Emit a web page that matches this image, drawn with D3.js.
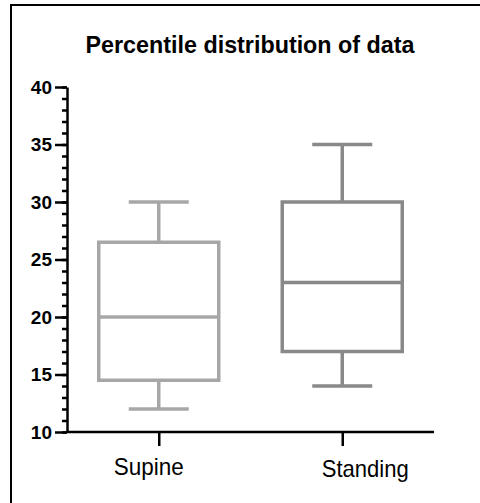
<!DOCTYPE html>
<html lang="en">
<head>
<meta charset="UTF-8">
<title>Percentile distribution of data</title>
<script src="https://d3js.org/d3.v7.min.js"></script>
<style>
  body { margin: 0; background: #fff; }
  text { font-family: "Liberation Sans", Arial, sans-serif; }
</style>
</head>
<body>
<script>
  // data
  const groups = ['Supine', 'Standing'];
  const mins = [12, 14];
  const q1s = [14.5, 17];
  const medians = [20, 23];
  const q3s = [26.5, 30];
  const maxs = [30, 35];
  const colours = ['#a7a7a9', '#898989'];
  const yTicks = [10, 15, 20, 25, 30, 35, 40];

  const width = 480, height = 503;
  const margin = { left: 67, right: 46, top: 87, bottom: 71 };

  const svg = d3.select('body').append('svg')
    .attr('width', width).attr('height', height);

  // frame (only left and top visible in the crop)
  svg.append('rect')
    .attr('x', 11).attr('y', 5)
    .attr('width', width + 10).attr('height', height + 10)
    .attr('fill', 'none').attr('stroke', '#000').attr('stroke-width', 2);

  const x = d3.scalePoint().domain(groups)
    .range([margin.left, width - margin.right]).padding(0.5);
  const y = d3.scaleLinear().domain([10, 40])
    .range([height - margin.bottom, margin.top]);

  svg.append('text')
    .attr('x', 250).attr('y', 53)
    .attr('text-anchor', 'middle')
    .attr('font-size', 24).attr('font-weight', 'bold')
    .attr('textLength', 329).attr('lengthAdjust', 'spacingAndGlyphs')
    .text('Percentile distribution of data');

  // minor ticks every 1
  svg.append('g')
    .attr('transform', `translate(${margin.left},0)`)
    .call(d3.axisLeft(y).tickValues(d3.range(10, 41, 1)).tickSize(5).tickFormat(''))
    .call(g => g.select('.domain').remove())
    .call(g => g.selectAll('line').attr('stroke-width', 2.5));

  // major ticks + labels
  const yAxis = svg.append('g')
    .attr('transform', `translate(${margin.left},0)`)
    .call(d3.axisLeft(y).tickValues(yTicks).tickSize(12).tickSizeOuter(0).tickPadding(3));
  yAxis.select('.domain').attr('stroke-width', 2.5);
  yAxis.selectAll('line').attr('stroke-width', 2.5);
  yAxis.selectAll('text')
    .attr('font-size', 19).attr('font-weight', 'bold').attr('fill', '#000')
    .attr('font-family', '"Liberation Sans", Arial, sans-serif');

  const xAxis = svg.append('g')
    .attr('transform', `translate(0,${height - margin.bottom})`)
    .call(d3.axisBottom(x).tickSize(14).tickSizeOuter(0).tickFormat(''));
  xAxis.select('.domain').attr('stroke-width', 2.5)
    .attr('d', `M${margin.left},0H${width - margin.right}`);
  xAxis.selectAll('line').attr('stroke-width', 2.5);

  // category labels (slightly offset as in the original)
  const labelDx = [-10, 23];
  const labelW = [70, 87];
  const labelY = [475, 477];
  svg.append('g').selectAll('text')
    .data(groups)
    .join('text')
    .attr('x', (d, i) => x(d) + labelDx[i])
    .attr('y', (d, i) => labelY[i])
    .attr('text-anchor', 'middle')
    .attr('font-size', 24)
    .attr('textLength', (d, i) => labelW[i])
    .attr('lengthAdjust', 'spacingAndGlyphs')
    .text(d => d);

  // boxes
  const boxW = 120, capW = 60, sw = 3.5;
  const boxes = svg.append('g').selectAll('g')
    .data(groups)
    .join('g')
    .attr('stroke', (d, i) => colours[i])
    .attr('stroke-width', sw)
    .attr('fill', 'none');

  boxes.append('line')
    .attr('x1', d => x(d)).attr('x2', d => x(d))
    .attr('y1', (d, i) => y(maxs[i])).attr('y2', (d, i) => y(q3s[i]));
  boxes.append('line')
    .attr('x1', d => x(d)).attr('x2', d => x(d))
    .attr('y1', (d, i) => y(q1s[i])).attr('y2', (d, i) => y(mins[i]));
  boxes.append('line')
    .attr('x1', d => x(d) - capW / 2).attr('x2', d => x(d) + capW / 2)
    .attr('y1', (d, i) => y(maxs[i])).attr('y2', (d, i) => y(maxs[i]));
  boxes.append('line')
    .attr('x1', d => x(d) - capW / 2).attr('x2', d => x(d) + capW / 2)
    .attr('y1', (d, i) => y(mins[i])).attr('y2', (d, i) => y(mins[i]));
  boxes.append('rect')
    .attr('x', d => x(d) - boxW / 2).attr('width', boxW)
    .attr('y', (d, i) => y(q3s[i]))
    .attr('height', (d, i) => y(q1s[i]) - y(q3s[i]))
    .attr('fill', '#fff');
  boxes.append('line')
    .attr('x1', d => x(d) - boxW / 2).attr('x2', d => x(d) + boxW / 2)
    .attr('y1', (d, i) => y(medians[i])).attr('y2', (d, i) => y(medians[i]));
</script>
</body>
</html>
